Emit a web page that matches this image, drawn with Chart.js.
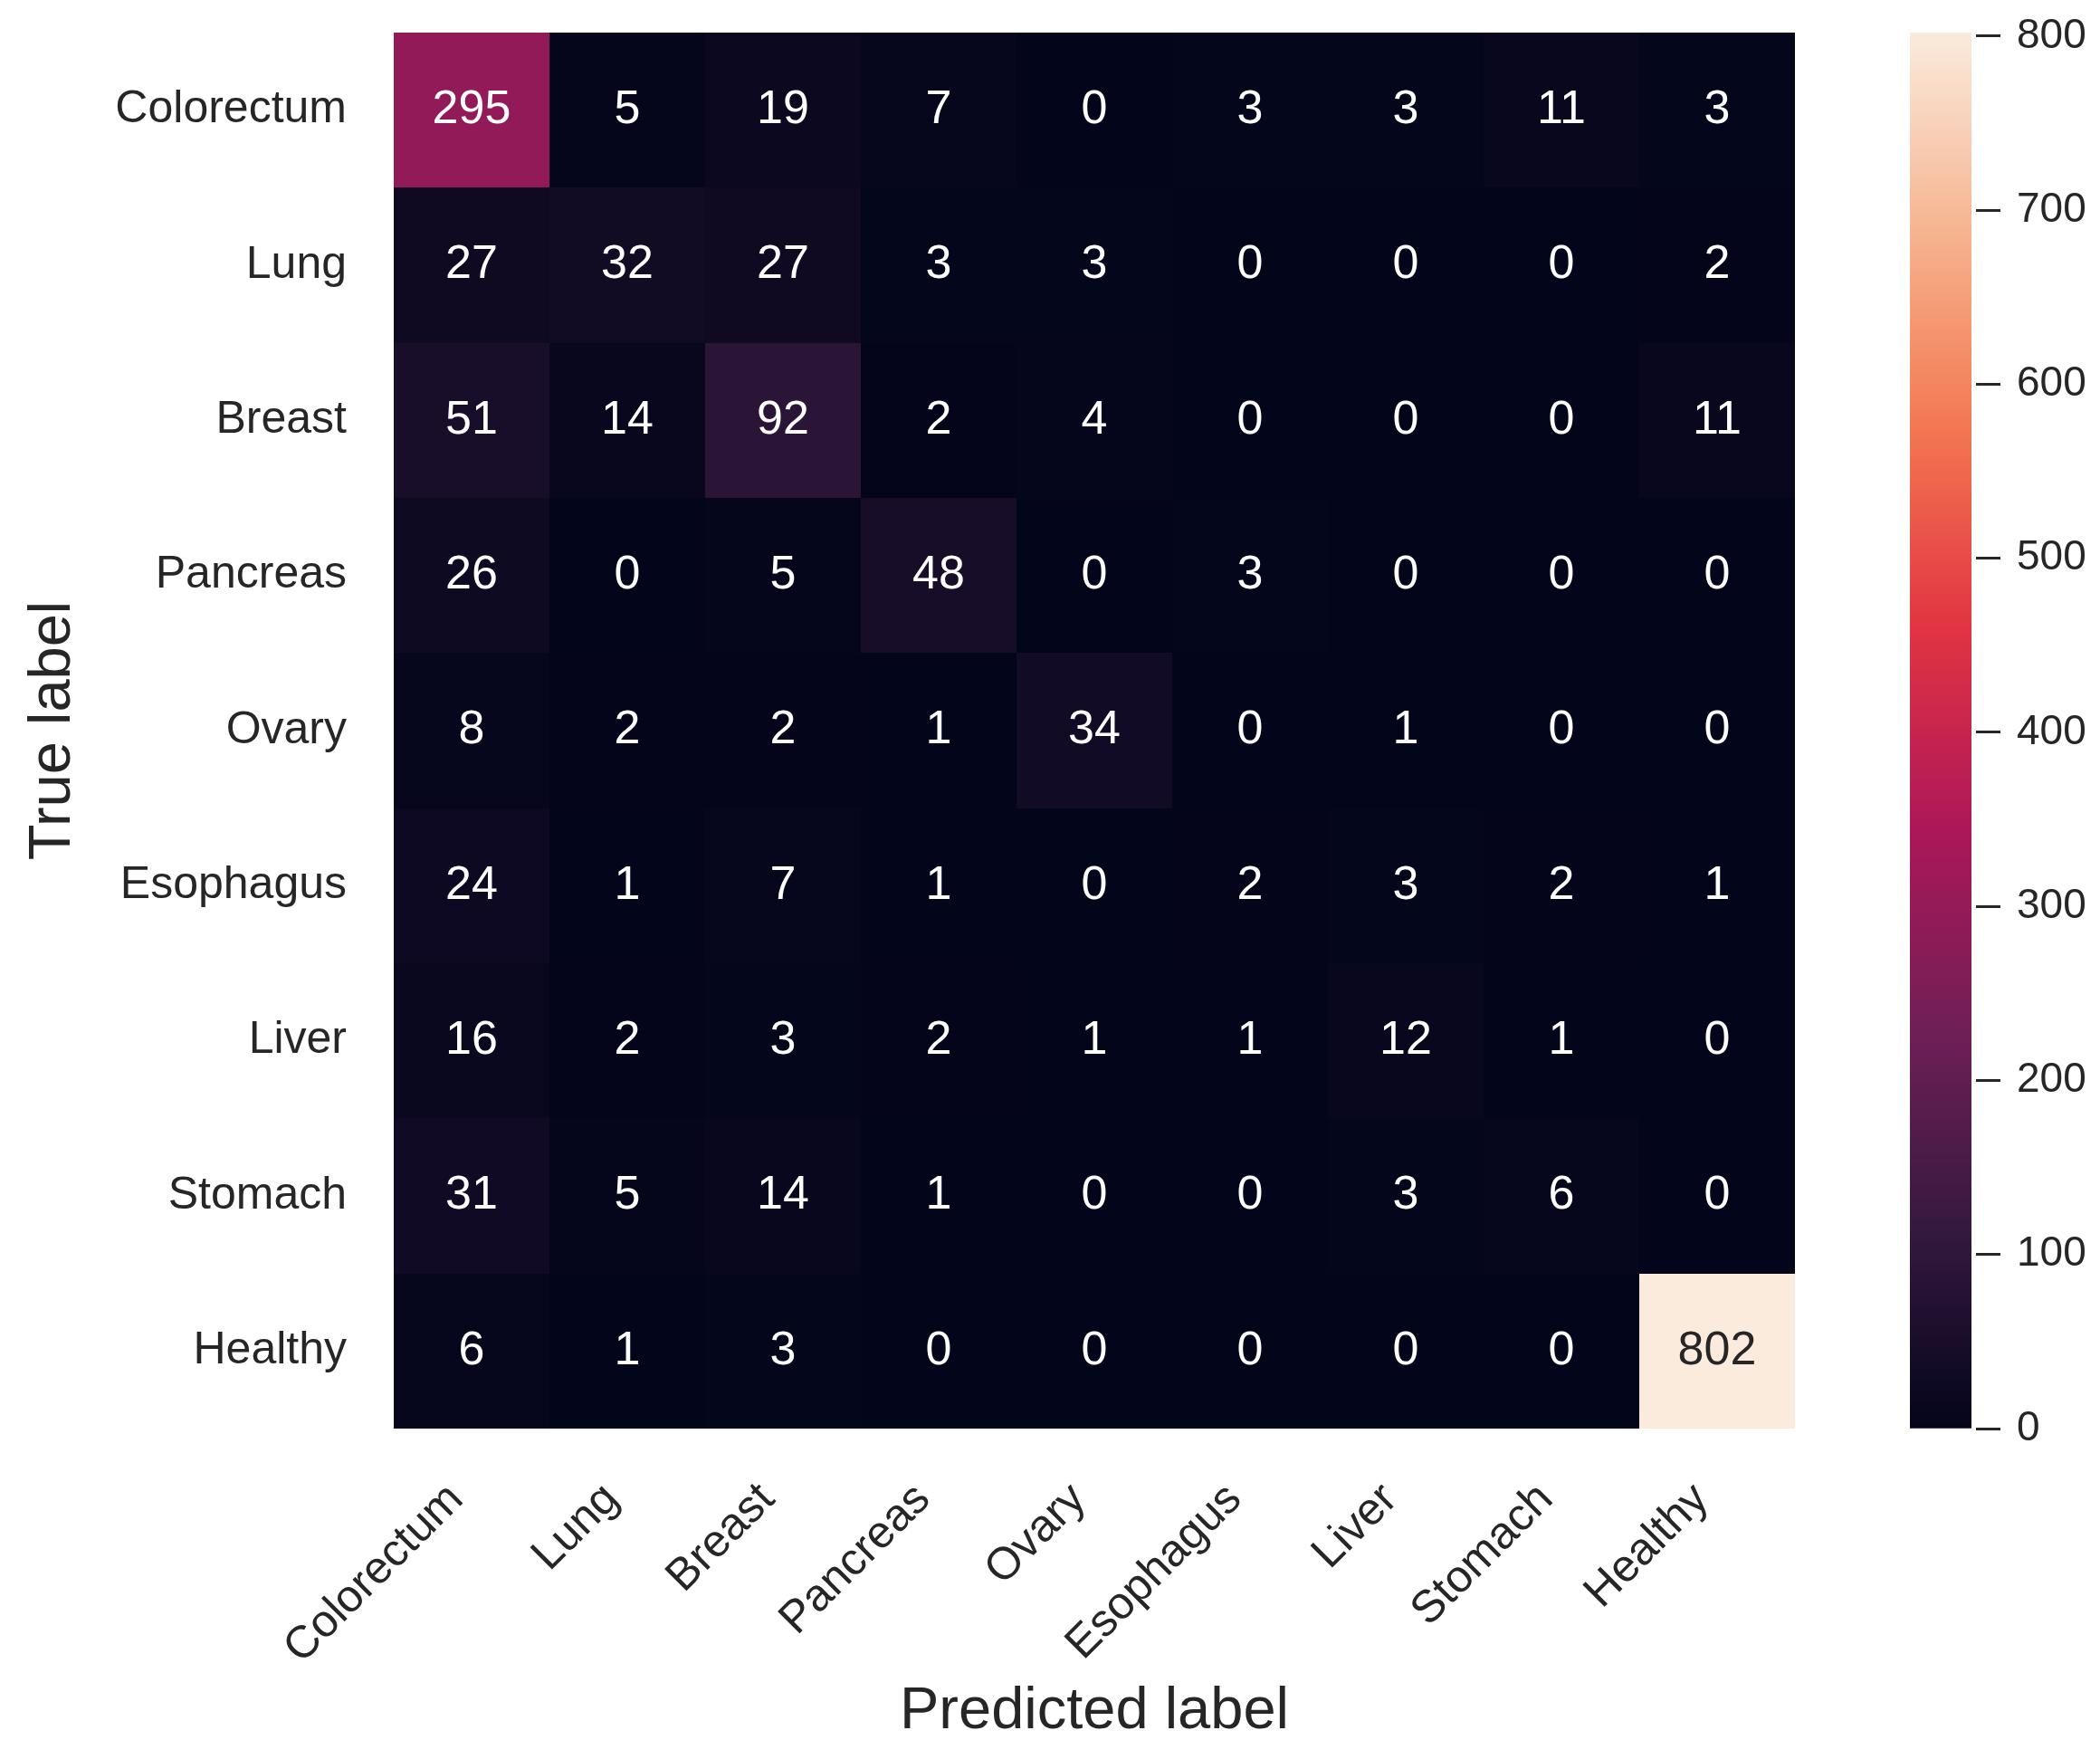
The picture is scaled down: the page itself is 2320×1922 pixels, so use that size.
<!DOCTYPE html>
<html>
<head>
<meta charset="utf-8">
<title>Confusion matrix</title>
<script src="https://cdn.jsdelivr.net/npm/chart.js@4.4.1/dist/chart.umd.min.js"></script>
<style>
  html, body { margin: 0; padding: 0; background: #ffffff; }
  #wrap { position: relative; width: 2320px; height: 1922px; }
  #matrix { position: absolute; left: 0; top: 0; }
  #scale { position: absolute; left: 2000px; top: 0; }
</style>
</head>
<body>
<div id="wrap">
  <canvas id="matrix" width="2320" height="1922"></canvas>
  <canvas id="scale" width="320" height="1922"></canvas>
</div>
<script>
// Class names (columns = predicted, rows = true)
const predictedLabels = ['Colorectum', 'Lung', 'Breast', 'Pancreas', 'Ovary', 'Esophagus', 'Liver', 'Stomach', 'Healthy'];
const trueLabels = ['Colorectum', 'Lung', 'Breast', 'Pancreas', 'Ovary', 'Esophagus', 'Liver', 'Stomach', 'Healthy'];

// Counts per true class, in the order of predictedLabels
const colorectumRow = [295, 5, 19, 7, 0, 3, 3, 11, 3];
const lungRow       = [27, 32, 27, 3, 3, 0, 0, 0, 2];
const breastRow     = [51, 14, 92, 2, 4, 0, 0, 0, 11];
const pancreasRow   = [26, 0, 5, 48, 0, 3, 0, 0, 0];
const ovaryRow      = [8, 2, 2, 1, 34, 0, 1, 0, 0];
const esophagusRow  = [24, 1, 7, 1, 0, 2, 3, 2, 1];
const liverRow      = [16, 2, 3, 2, 1, 1, 12, 1, 0];
const stomachRow    = [31, 5, 14, 1, 0, 0, 3, 6, 0];
const healthyRow    = [6, 1, 3, 0, 0, 0, 0, 0, 802];

// Colour bar tick values
const colorbarTicks = [0, 100, 200, 300, 400, 500, 600, 700, 800];

const rows = [colorectumRow, lungRow, breastRow, pancreasRow, ovaryRow, esophagusRow, liverRow, stomachRow, healthyRow];
const vmax = Math.max(...rows.flat());
const vmin = 0;

// "rocket" sequential colour map
const rocketStops = ['#03051a', '#35193e', '#701f57', '#ad1759', '#e13342', '#f37651', '#f6b48f', '#faebdd'];
function hexToRgb(h) {
  return [parseInt(h.slice(1, 3), 16), parseInt(h.slice(3, 5), 16), parseInt(h.slice(5, 7), 16)];
}
const rocketRgb = rocketStops.map(hexToRgb);
function rocketRGB(t) {
  t = Math.min(1, Math.max(0, t));
  const n = rocketRgb.length - 1;
  const p = t * n;
  const i = Math.min(n - 1, Math.floor(p));
  const f = p - i;
  const a = rocketRgb[i], b = rocketRgb[i + 1];
  return [0, 1, 2].map(k => Math.round(a[k] + (b[k] - a[k]) * f));
}
function rocketColor(t) {
  const c = rocketRGB(t);
  return `rgb(${c[0]},${c[1]},${c[2]})`;
}
function luminance(rgb) {
  const lin = rgb.map(v => {
    v /= 255;
    return v <= 0.03928 ? v / 12.92 : Math.pow((v + 0.055) / 1.055, 2.4);
  });
  return 0.2126 * lin[0] + 0.7152 * lin[1] + 0.0722 * lin[2];
}

const FONT = '"Liberation Sans", Arial, Helvetica, sans-serif';
const INK = '#262626';
Chart.defaults.font.family = FONT;
Chart.defaults.color = INK;

// Axis boxes keep a fixed size and ask for no extra room around the plot
function fixBox(size, horizontal) {
  return s => {
    if (horizontal) s.height = size; else s.width = size;
    s.paddingTop = 0; s.paddingBottom = 0; s.paddingLeft = 0; s.paddingRight = 0;
  };
}

// One point per cell, placed on the two category axes
const cells = [];
trueLabels.forEach((tl, r) => {
  predictedLabels.forEach((pl, c) => {
    cells.push({ x: pl, y: tl, v: rows[r][c] });
  });
});

// Paints each cell as a rectangle spanning its category band, then its count
const cellPainter = {
  id: 'cellPainter',
  beforeDatasetsDraw(chart) {
    const { ctx, scales: { x, y } } = chart;
    const hx = Math.abs(x.getPixelForValue(1) - x.getPixelForValue(0)) / 2;
    const hy = Math.abs(y.getPixelForValue(1) - y.getPixelForValue(0)) / 2;
    const data = chart.data.datasets[0].data;
    ctx.save();
    chart.getDatasetMeta(0).data.forEach((pt, i) => {
      const l = Math.round(pt.x - hx), r = Math.round(pt.x + hx);
      const t = Math.round(pt.y - hy), b = Math.round(pt.y + hy);
      ctx.fillStyle = rocketColor((data[i].v - vmin) / (vmax - vmin));
      ctx.fillRect(l, t, r - l, b - t);
    });
    ctx.restore();
  },
  afterDatasetsDraw(chart) {
    const { ctx } = chart;
    const data = chart.data.datasets[0].data;
    ctx.save();
    ctx.font = `52px ${FONT}`;
    ctx.textAlign = 'center';
    ctx.textBaseline = 'middle';
    chart.getDatasetMeta(0).data.forEach((pt, i) => {
      const rgb = rocketRGB((data[i].v - vmin) / (vmax - vmin));
      ctx.fillStyle = luminance(rgb) > 0.408 ? INK : '#ffffff';
      ctx.fillText(String(data[i].v), pt.x, pt.y);
    });
    ctx.restore();
  }
};

new Chart(document.getElementById('matrix'), {
  type: 'scatter',
  data: {
    datasets: [{
      data: cells,
      pointRadius: 0,
      pointHoverRadius: 0,
      backgroundColor: ctx => (ctx.raw ? rocketColor((ctx.raw.v - vmin) / (vmax - vmin)) : 'transparent')
    }]
  },
  options: {
    responsive: false,
    animation: false,
    devicePixelRatio: 1,
    events: [],
    layout: { padding: { left: 0, top: 36, right: 337, bottom: 0 } },
    plugins: { legend: { display: false }, tooltip: { enabled: false } },
    scales: {
      x: {
        type: 'category',
        labels: predictedLabels,
        offset: true,
        position: 'bottom',
        afterFit: fixBox(344, true),
        grid: { display: false, drawTicks: false },
        border: { display: false },
        ticks: {
          autoSkip: false,
          minRotation: 45,
          maxRotation: 45,
          padding: 49,
          labelOffset: -17,
          color: INK,
          font: { size: 50 }
        },
        title: {
          display: true,
          text: 'Predicted label',
          color: INK,
          font: { size: 65, lineHeight: 0.9 },
          padding: { top: 0, bottom: 2 }
        }
      },
      y: {
        type: 'category',
        labels: trueLabels,
        offset: true,
        position: 'left',
        afterFit: fixBox(435, false),
        grid: { display: false, drawTicks: false },
        border: { display: false },
        ticks: {
          autoSkip: false,
          padding: 52,
          color: INK,
          font: { size: 50 }
        },
        title: {
          display: true,
          text: 'True label',
          color: INK,
          font: { size: 65, lineHeight: 1.2 },
          padding: { top: 20, bottom: 0 }
        }
      }
    }
  },
  plugins: [cellPainter]
});

// Colour bar: one bar from vmin to vmax filled with the colour map
new Chart(document.getElementById('scale'), {
  type: 'bar',
  data: {
    labels: [''],
    datasets: [{
      data: [vmax],
      borderWidth: 0,
      barPercentage: 1,
      categoryPercentage: 1,
      backgroundColor: ctx => {
        const chart = ctx.chart;
        if (!chart.chartArea) return rocketColor(0);
        const y = chart.scales.y;
        const g = chart.ctx.createLinearGradient(0, y.getPixelForValue(vmin), 0, y.getPixelForValue(vmax));
        const steps = 128;
        for (let i = 0; i <= steps; i++) g.addColorStop(i / steps, rocketColor(i / steps));
        return g;
      }
    }]
  },
  options: {
    responsive: false,
    animation: false,
    devicePixelRatio: 1,
    events: [],
    layout: { padding: { left: 110, top: 36, right: 0, bottom: 344 } },
    plugins: { legend: { display: false }, tooltip: { enabled: false } },
    scales: {
      x: { display: false },
      y: {
        position: 'right',
        min: vmin,
        max: vmax,
        afterFit: fixBox(142, false),
        afterBuildTicks: s => { s.ticks = colorbarTicks.map(v => ({ value: v })); },
        grid: {
          drawOnChartArea: false,
          drawTicks: true,
          tickLength: 32,
          tickWidth: 3,
          tickColor: INK,
          tickBorderDash: [0, 5, 27, 40]
        },
        border: { display: false },
        ticks: { padding: 18, color: INK, font: { size: 46 } }
      }
    }
  }
});
</script>
</body>
</html>
